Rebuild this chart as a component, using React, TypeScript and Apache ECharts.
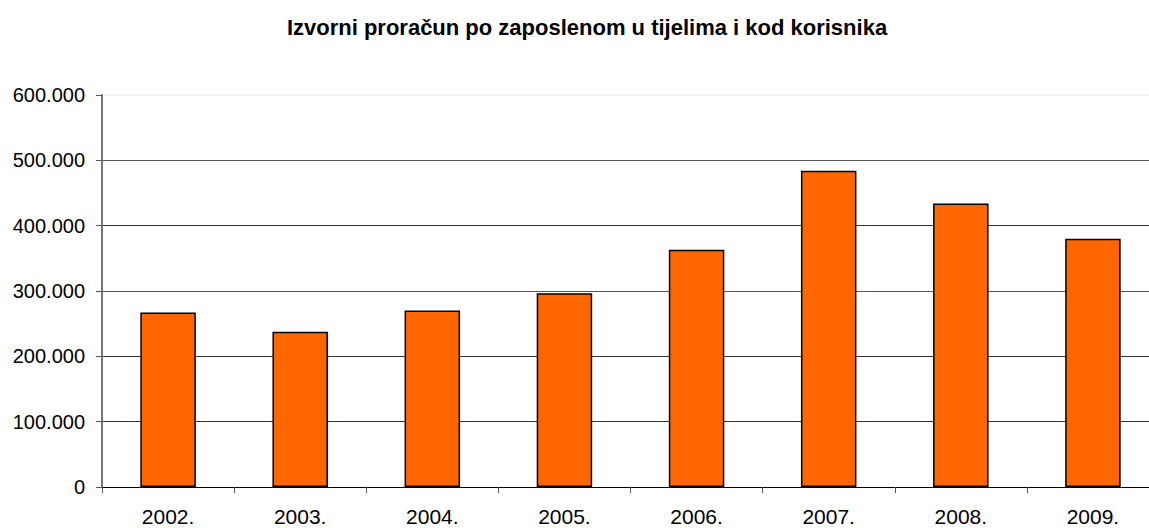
import React, { useEffect, useRef } from "react";
import * as echarts from "echarts";

const titleText = "Izvorni proračun po zaposlenom u tijelima i kod korisnika";
const categories = ["2002.", "2003.", "2004.", "2005.", "2006.", "2007.", "2008.", "2009."];
const values = [267000, 237500, 270000, 296700, 363000, 484000, 434000, 380000];
const yTicks = [0, 100000, 200000, 300000, 400000, 500000, 600000];

function fmt(v: number): string {
  if (v === 0) return "0";
  const s = String(Math.round(v));
  return s.replace(/\B(?=(\d{3})+(?!\d))/g, ".");
}

export default function App() {
  const ref = useRef<HTMLDivElement>(null);
  useEffect(() => {
    if (!ref.current) return;
    const chart = echarts.init(ref.current, undefined, { renderer: "svg" });
    chart.setOption({
      animation: false,
      backgroundColor: "#ffffff",
      title: {
        text: titleText,
        left: 582,
        textAlign: "center",
        top: 11,
        textStyle: {
          fontFamily: "Liberation Sans, Arial, sans-serif",
          fontWeight: "bold",
          fontSize: 22,
          color: "#000",
        },
      },
      grid: { left: 102, top: 95, right: 0, height: 392, containLabel: false },
      xAxis: {
        type: "category",
        data: categories,
        boundaryGap: true,
        axisLine: { show: true, lineStyle: { color: "#000", width: 1 } },
        axisTick: { show: true, alignWithLabel: false, length: 6, lineStyle: { color: "#555" } },
        axisLabel: {
          fontFamily: "Liberation Sans, Arial, sans-serif",
          fontSize: 21,
          color: "#000",
          margin: 19,
        },
        splitLine: { show: false },
      },
      yAxis: {
        type: "value",
        min: 0,
        max: yTicks[yTicks.length - 1],
        interval: 100000,
        axisLine: { show: true, lineStyle: { color: "#777", width: 2 } },
        axisTick: { show: true, length: 6, lineStyle: { color: "#555" } },
        axisLabel: {
          fontFamily: "Liberation Sans, Arial, sans-serif",
          fontSize: 20,
          color: "#000",
          margin: 17,
          formatter: (v: number) => fmt(v),
        },
        splitLine: {
          show: true,
          lineStyle: { color: ["#000", "#333", "#333", "#555", "#333", "#555", "#eeeeee"], width: 1 },
        },
      },
      series: [
        {
          type: "bar",
          data: values,
          barWidth: "42%",
          itemStyle: { color: "#FF6600", borderColor: "#000", borderWidth: 1.5 },
        },
      ],
    });
    return () => chart.dispose();
  }, []);
  return (
    <div style={{ width: 1149, height: 528, position: "absolute", left: 0, top: 0, overflow: "hidden", background: "#fff" }}>
      <div ref={ref} style={{ width: 1159, height: 528 }} />
    </div>
  );
}
